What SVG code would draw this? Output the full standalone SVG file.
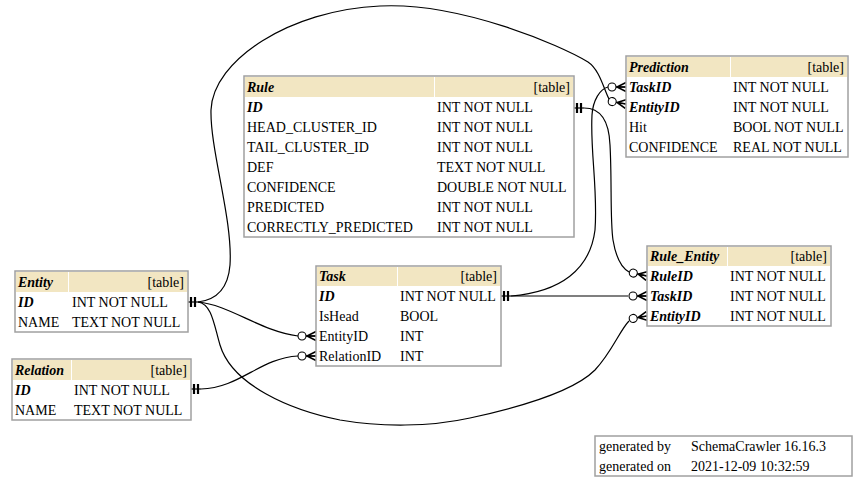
<svg xmlns="http://www.w3.org/2000/svg" width="864" height="485" viewBox="0 0 864 485">
<style>
text{font-family:"Liberation Serif","Times New Roman",serif;font-size:14px;fill:#000}
.k{font-weight:bold;font-style:italic}
.r{text-anchor:end}
.box{fill:#fff;stroke:#a0a0a0;stroke-width:1.5}
.hd{fill:#F2E6C2}
.dv{stroke:#fff;stroke-width:1}
.c{fill:none;stroke:#000;stroke-width:1.2}
</style>
<defs>
<g id="tee"><line x1="0" y1="0" x2="10" y2="0" stroke="#000" stroke-width="1.2"/><line x1="3" y1="-5" x2="3" y2="5" stroke="#000" stroke-width="2.2"/><line x1="7" y1="-5" x2="7" y2="5" stroke="#000" stroke-width="2.2"/></g>
<g id="crow"><line x1="0" y1="0" x2="-10" y2="0" stroke="#000" stroke-width="1.2"/><path d="M0,-4.5 L-9,0 L0,4.5 M-9,0 L0,0" fill="none" stroke="#000" stroke-width="1.6"/><circle cx="-14" cy="0" r="4" fill="#fff" stroke="#000" stroke-width="1.1"/></g>
</defs>
<rect width="864" height="485" fill="#fff"/>
<g id="connectors">
<path class="c" d="M198,302 C215,300 228,290 230,265 C233,220 210,150 211,110 C213,60 290,10 380,6 C460,2 560,45 588,62 C600,70 604,90 609,99"/>
<path class="c" d="M511,296 C560,292 590,270 595,230 C598,190 590,150 592,115 C593,100 600,89 608,87"/>
<path class="c" d="M584,108 C600,108 609,120 610,145 C612,180 610,220 613,240 C616,258 622,268 629,272"/>
<path class="c" d="M511,296 L628,296"/>
<path class="c" d="M198,302 C212,304 214,325 220,345 C232,385 290,410 340,420 C380,427 430,427 470,418 C530,405 575,390 595,370 C612,352 620,330 629,321"/>
<path class="c" d="M198,302 C230,305 260,331 298,336"/>
<path class="c" d="M201,389 C240,388 260,358 298,356"/>
<use href="#tee" transform="translate(188,302)"/>
<use href="#tee" transform="translate(191,389)"/>
<use href="#tee" transform="translate(501,296)"/>
<use href="#tee" transform="translate(574,108)"/>
<use href="#crow" transform="translate(626,87)"/>
<use href="#crow" transform="translate(626,104) rotate(10)"/>
<use href="#crow" transform="translate(647,276) rotate(12)"/>
<use href="#crow" transform="translate(647,296)"/>
<use href="#crow" transform="translate(647,316) rotate(-10)"/>
<use href="#crow" transform="translate(316,336)"/>
<use href="#crow" transform="translate(316,356)"/>
</g>
<g id="Rule">
<rect class="box" x="244" y="76" width="330" height="161"/>
<rect class="hd" x="245" y="77" width="328" height="20"/>
<line class="dv" x1="434.5" y1="77" x2="434.5" y2="97"/>
<text class="k" x="247" y="92">Rule</text><text class="r" x="570" y="92">[table]</text>
<text class="k" x="247" y="112">ID</text><text x="437" y="112">INT NOT NULL</text>
<text x="247" y="132">HEAD_CLUSTER_ID</text><text x="437" y="132">INT NOT NULL</text>
<text x="247" y="152">TAIL_CLUSTER_ID</text><text x="437" y="152">INT NOT NULL</text>
<text x="247" y="172">DEF</text><text x="437" y="172">TEXT NOT NULL</text>
<text x="247" y="192">CONFIDENCE</text><text x="437" y="192">DOUBLE NOT NULL</text>
<text x="247" y="212">PREDICTED</text><text x="437" y="212">INT NOT NULL</text>
<text x="247" y="232">CORRECTLY_PREDICTED</text><text x="437" y="232">INT NOT NULL</text>
</g>
<g id="Prediction">
<rect class="box" x="626" y="56" width="222" height="101"/>
<rect class="hd" x="627" y="57" width="220" height="20"/>
<line class="dv" x1="730.5" y1="57" x2="730.5" y2="77"/>
<text class="k" x="629" y="72">Prediction</text><text class="r" x="844" y="72">[table]</text>
<text class="k" x="629" y="92">TaskID</text><text x="733" y="92">INT NOT NULL</text>
<text class="k" x="629" y="112">EntityID</text><text x="733" y="112">INT NOT NULL</text>
<text x="629" y="132">Hit</text><text x="733" y="132">BOOL NOT NULL</text>
<text x="629" y="152">CONFIDENCE</text><text x="733" y="152">REAL NOT NULL</text>
</g>
<g id="Entity">
<rect class="box" x="15" y="271" width="173" height="61"/>
<rect class="hd" x="16" y="272" width="171" height="20"/>
<line class="dv" x1="68.5" y1="272" x2="68.5" y2="292"/>
<text class="k" x="18" y="287">Entity</text><text class="r" x="184" y="287">[table]</text>
<text class="k" x="18" y="307">ID</text><text x="72" y="307">INT NOT NULL</text>
<text x="18" y="327">NAME</text><text x="72" y="327">TEXT NOT NULL</text>
</g>
<g id="Relation">
<rect class="box" x="12" y="359" width="179" height="61"/>
<rect class="hd" x="13" y="360" width="177" height="20"/>
<line class="dv" x1="71.5" y1="360" x2="71.5" y2="380"/>
<text class="k" x="15" y="375">Relation</text><text class="r" x="187" y="375">[table]</text>
<text class="k" x="15" y="395">ID</text><text x="74" y="395">INT NOT NULL</text>
<text x="15" y="415">NAME</text><text x="74" y="415">TEXT NOT NULL</text>
</g>
<g id="Task">
<rect class="box" x="316" y="266" width="185" height="100"/>
<rect class="hd" x="317" y="267" width="183" height="19"/>
<line class="dv" x1="397.5" y1="267" x2="397.5" y2="286"/>
<text class="k" x="319" y="281">Task</text><text class="r" x="497" y="281">[table]</text>
<text class="k" x="319" y="301">ID</text><text x="400" y="301">INT NOT NULL</text>
<text x="319" y="321">IsHead</text><text x="400" y="321">BOOL</text>
<text x="319" y="341">EntityID</text><text x="400" y="341">INT</text>
<text x="319" y="361">RelationID</text><text x="400" y="361">INT</text>
</g>
<g id="Rule_Entity">
<rect class="box" x="647" y="246" width="184" height="80"/>
<rect class="hd" x="648" y="247" width="182" height="19"/>
<line class="dv" x1="727.5" y1="247" x2="727.5" y2="266"/>
<text class="k" x="650" y="261">Rule_Entity</text><text class="r" x="827" y="261">[table]</text>
<text class="k" x="650" y="281">RuleID</text><text x="730" y="281">INT NOT NULL</text>
<text class="k" x="650" y="301">TaskID</text><text x="730" y="301">INT NOT NULL</text>
<text class="k" x="650" y="321">EntityID</text><text x="730" y="321">INT NOT NULL</text>
</g>
<g id="footer">
<rect class="box" x="595" y="436" width="257" height="40"/>
<text x="599" y="451">generated by</text><text x="691" y="451">SchemaCrawler 16.16.3</text>
<text x="599" y="471">generated on</text><text x="691" y="471">2021-12-09 10:32:59</text>
</g>
</svg>
